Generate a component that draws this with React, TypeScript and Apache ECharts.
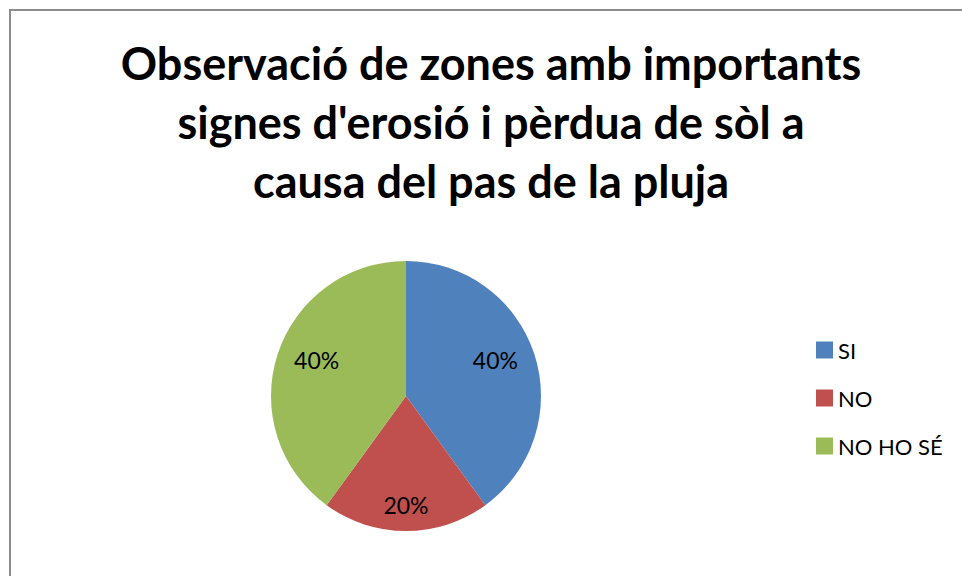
import React, { useEffect, useRef } from "react";
import * as echarts from "echarts";

const titleLines = [
  "Observació de zones amb importants",
  "signes d'erosió i pèrdua de sòl a",
  "causa del pas de la pluja",
];
const categories = ["SI", "NO", "NO HO SÉ"];
const values = [40, 20, 40];
const colors = ["#4F81BD", "#C0504D", "#9BBB59"];

const FONT = "Lato, 'Open Sans', sans-serif";

export default function App() {
  const ref = useRef<HTMLDivElement>(null);
  useEffect(() => {
    document.body.style.margin = "0";
    const chart = echarts.init(ref.current!, null, { renderer: "svg" });
    const pieData = categories.map((name, i) => ({
      name,
      value: values[i],
      itemStyle: { color: colors[i] },
    }));
    const labelData = categories.map((name, i) => ({
      name,
      value: values[i],
      label:
        name === "NO"
          ? { formatter: "\n{d}%", lineHeight: 30 }
          : { formatter: "{d}%\n", lineHeight: 14 },
    }));
    chart.setOption({
      animation: false,
      backgroundColor: "#ffffff",
      title: {
        text: titleLines.join("\n"),
        left: 486,
        top: 28,
        textAlign: "center",
        textStyle: {
          fontFamily: FONT,
          fontWeight: "bold",
          fontSize: 45,
          lineHeight: 59,
          color: "#000000",
        },
      },
      legend: {
        orient: "vertical",
        left: 816,
        top: 339,
        padding: 0,
        icon: "rect",
        itemWidth: 17,
        itemHeight: 17,
        itemGap: 26,
        itemTextGap: 6,
        data: categories,
        textStyle: {
          fontFamily: FONT,
          fontSize: 22,
          lineHeight: 17,
          color: "#000000",
        },
      },
      graphic: [
        {
          type: "rect",
          shape: { x: 10, y: 10, width: 1000, height: 600 },
          style: { fill: "none", stroke: "#8c8c8c", lineWidth: 2 },
          silent: true,
        },
      ],
      series: [
        {
          type: "pie",
          center: [406, 396],
          radius: [0, 135],
          startAngle: 90,
          clockwise: true,
          data: pieData,
          label: { show: false },
          labelLine: { show: false },
          itemStyle: { borderWidth: 0 },
          emphasis: { disabled: true },
        },
        {
          type: "pie",
          center: [406, 396],
          radius: [47, 135],
          startAngle: 90,
          clockwise: true,
          silent: true,
          data: labelData,
          itemStyle: { color: "rgba(0,0,0,0)", borderWidth: 0 },
          label: {
            show: true,
            position: "inside",
            fontFamily: FONT,
            fontSize: 23,
            color: "#000000",
          },
          labelLine: { show: false },
          emphasis: { disabled: true },
        },
      ],
    });
    return () => chart.dispose();
  }, []);
  return (
    <div
      ref={ref}
      style={{ width: 962, height: 576, position: "absolute", left: 0, top: 0 }}
    />
  );
}
